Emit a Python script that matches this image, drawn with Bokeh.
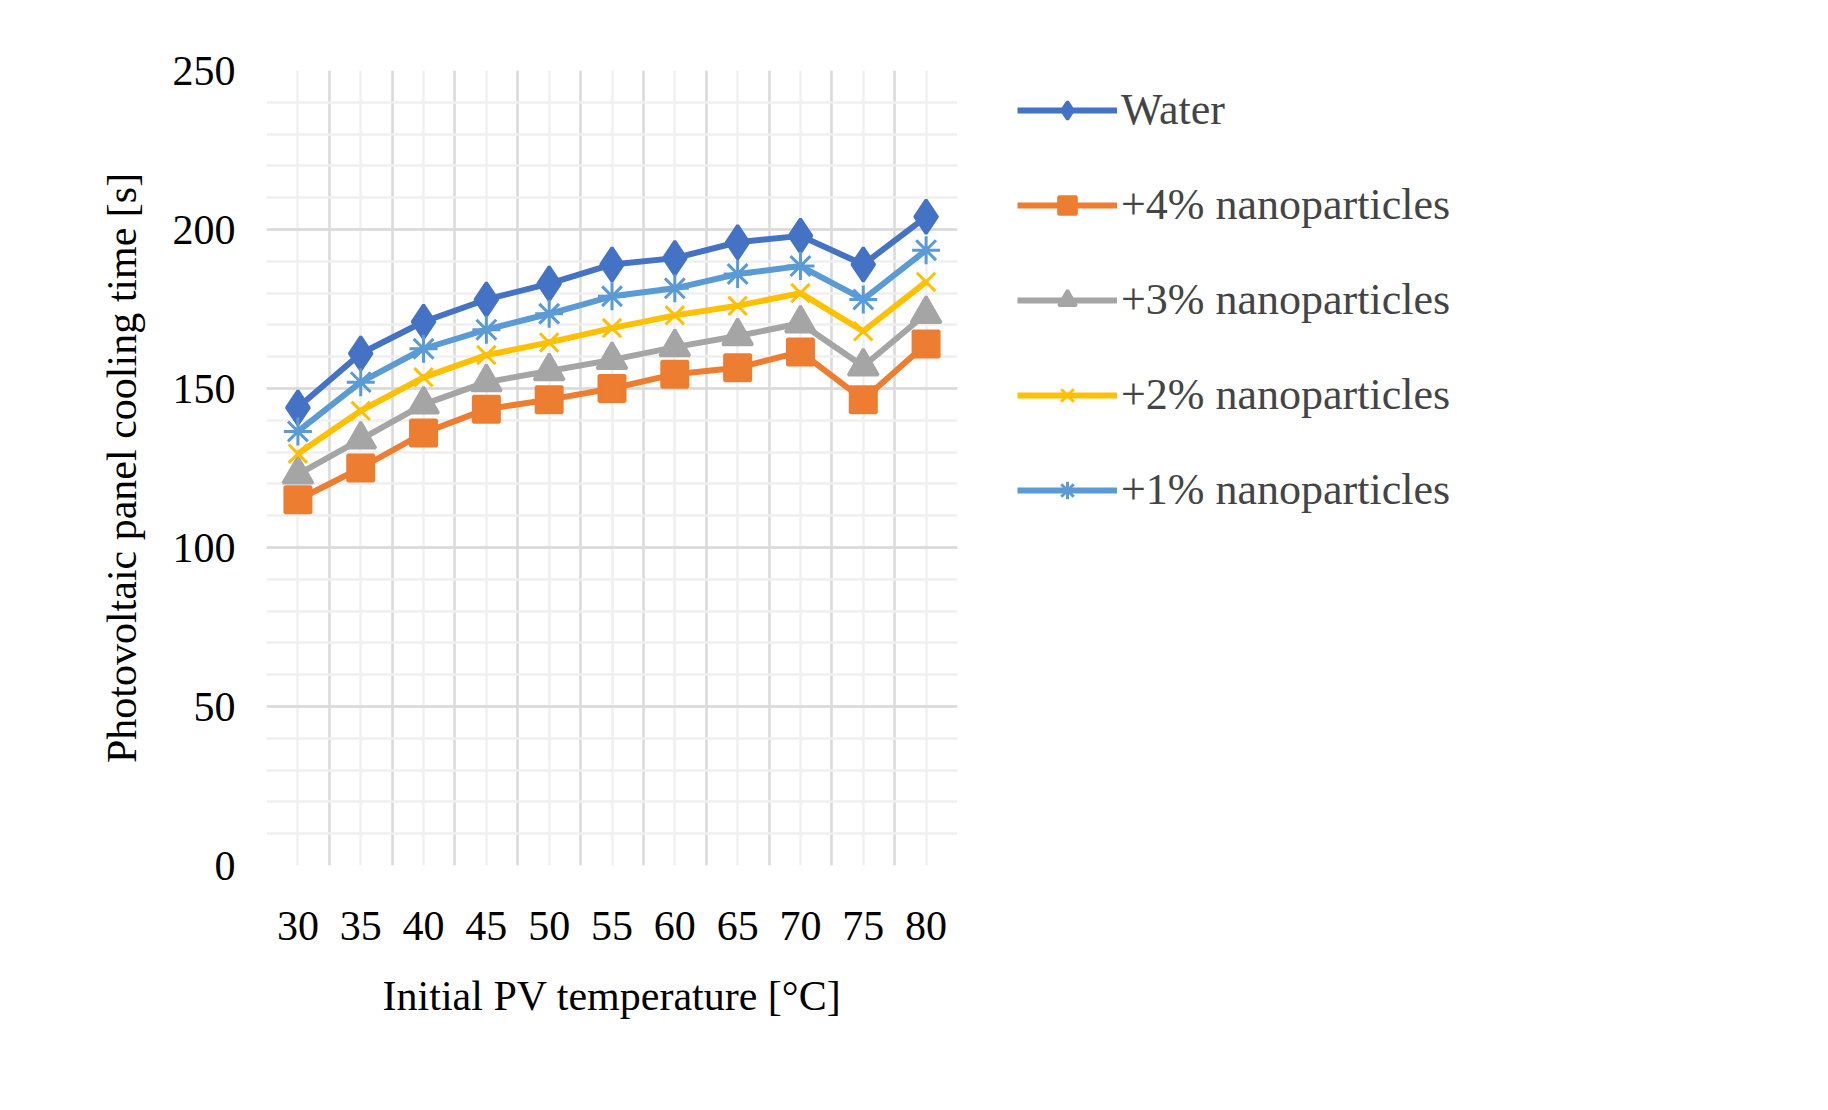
from bokeh.plotting import figure
from bokeh.models import FixedTicker, Grid, Legend, LegendItem, Range1d
from bokeh.embed import file_html
from bokeh.resources import INLINE

temps = [30, 35, 40, 45, 50, 55, 60, 65, 70, 75, 80]
water = [144, 161, 171, 178, 183, 189, 191, 196, 198, 189, 204]
np4 = [115, 125, 136, 143.5, 146.5, 150, 154.5, 156.5, 161.5, 146.5, 164]
np3 = [123, 134, 145, 152, 155.5, 159, 163, 166.5, 170.5, 157, 173.5]
np2 = [129.5, 143, 153.5, 160.5, 164.5, 169, 173, 176, 180, 168, 183.5]
np1 = [136.5, 152, 162.5, 168.5, 173.5, 179, 181.5, 186, 188.5, 178, 193.5]

FONT = "Liberation Serif"
p = figure(width=1810, height=1090, output_backend="svg", toolbar_location=None,
           x_range=Range1d(27.5, 82.5), y_range=Range1d(0, 250),
           min_border_left=266, min_border_right=385, min_border_top=70, min_border_bottom=225)
p.outline_line_color = None
p.border_fill_color = "white"
p.grid.visible = False

bounds = [27.5 + 5 * i for i in range(12)]
xg = Grid(dimension=0, ticker=FixedTicker(ticks=bounds, minor_ticks=temps),
          grid_line_color="#d9d9d9", grid_line_width=2.5,
          minor_grid_line_color="#f0f0f0", minor_grid_line_width=2.5)
yg = Grid(dimension=1, ticker=FixedTicker(ticks=[0, 50, 100, 150, 200, 250],
                                          minor_ticks=list(range(0, 251, 10))),
          grid_line_color="#d9d9d9", grid_line_width=2.5,
          minor_grid_line_color="#f0f0f0", minor_grid_line_width=2.5)
p.add_layout(xg)
p.add_layout(yg)

p.xaxis.ticker = FixedTicker(ticks=temps)
p.yaxis.ticker = FixedTicker(ticks=[0, 50, 100, 150, 200, 250])
for ax in (p.xaxis, p.yaxis):
    ax.axis_line_color = None
    ax.major_tick_line_color = None
    ax.minor_tick_line_color = None
    ax.major_label_text_font = FONT
    ax.major_label_text_font_size = "42px"
    ax.major_label_text_color = "#000000"
    ax.axis_label_text_font = FONT
    ax.axis_label_text_font_size = "42px"
    ax.axis_label_text_font_style = "normal"
    ax.axis_label_text_color = "#000000"
p.xaxis.major_label_standoff = 40
p.yaxis.major_label_standoff = 25
p.xaxis.axis_label = "Initial PV temperature [°C]"
p.yaxis.axis_label = "Photovoltaic panel cooling time [s]"
p.xaxis.axis_label_standoff = 30
p.yaxis.axis_label_standoff = 25

series = [
    ("Water", water, "#4472C4", "diamond", 34),
    ("+4% nanoparticles", np4, "#ED7D31", "square", 26),
    ("+3% nanoparticles", np3, "#A5A5A5", "triangle", 30),
    ("+2% nanoparticles", np2, "#FFC000", "x", 26),
    ("+1% nanoparticles", np1, "#5B9BD5", "asterisk", 28),
]
items = []
rend = {}
for name, ys, col, mk, sz in series:
    l = p.line(temps, ys, line_color=col, line_width=6)
    m = p.scatter(temps, ys, marker=mk, size=sz, fill_color=col, line_color=col, line_width=3)
    rend[name] = [l, m]
for name, *_ in series:
    items.append(LegendItem(label=name, renderers=rend[name]))
leg = Legend(items=items, label_text_font=FONT, label_text_font_size="44px",
             border_line_color=None, spacing=44, glyph_width=100, glyph_height=44,
             label_standoff=4, background_fill_alpha=0)
p.add_layout(leg, "right")
leg.location = (60, 350)

open("out.html", "w").write(file_html(p, INLINE))
